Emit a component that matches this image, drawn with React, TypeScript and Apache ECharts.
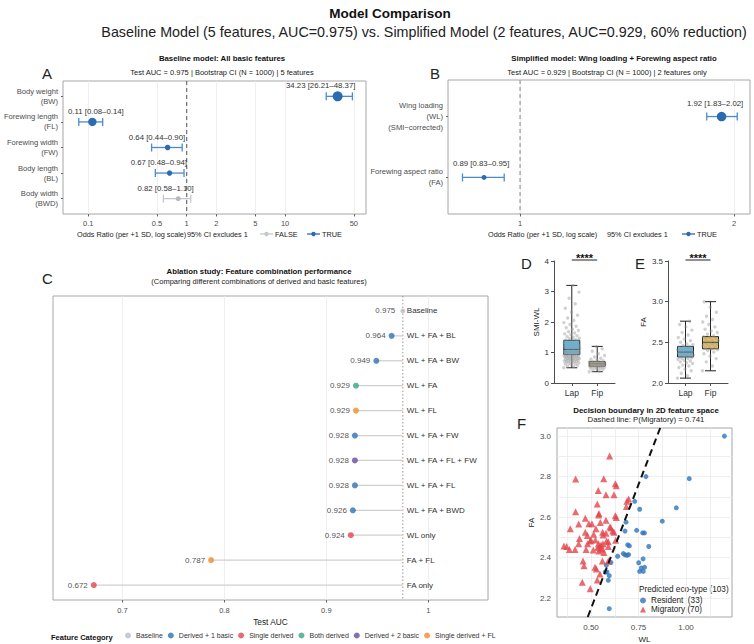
import React, { useEffect, useRef } from 'react';
import * as echarts from 'echarts';

const FONT = '"Liberation Sans", Arial, Helvetica, sans-serif';

// ---------------- Panel A: baseline model (odds ratios) ----------------
const aFeatures = ['Body weight\n(BW)', 'Forewing length\n(FL)', 'Forewing width\n(FW)', 'Body length\n(BL)', 'Body width\n(BWD)'];
const aOR = [34.23, 0.11, 0.64, 0.67, 0.82];
const aLow = [26.21, 0.08, 0.44, 0.48, 0.58];
const aHigh = [48.37, 0.14, 0.90, 0.94, 1.10];
const aTicks = [0.1, 0.5, 1, 2, 5, 10, 50];

// ---------------- Panel B: simplified model ----------------
const bFeatures = ['Wing loading\n(WL)\n(SMI\u2212corrected)', 'Forewing aspect ratio\n(FA)'];
const bOR = [1.92, 0.89];
const bLow = [1.83, 0.83];
const bHigh = [2.02, 0.95];
const bTicks = [1, 2];

// ---------------- Panel C: ablation study ----------------
const cCombos = ['Baseline', 'WL + FA + BL', 'WL + FA + BW', 'WL + FA', 'WL + FL', 'WL + FA + FW', 'WL + FA + FL + FW', 'WL + FA + FL', 'WL + FA + BWD', 'WL only', 'FA + FL', 'FA only'];
const cAUC = [0.975, 0.964, 0.949, 0.929, 0.929, 0.928, 0.928, 0.928, 0.926, 0.924, 0.787, 0.672];
const cCategory = ['Baseline', 'Derived + 1 basic', 'Derived + 1 basic', 'Both derived', 'Single derived + FL', 'Derived + 1 basic', 'Derived + 2 basic', 'Derived + 1 basic', 'Derived + 1 basic', 'Single derived', 'Single derived + FL', 'Single derived'];
const categoryNames = ['Baseline', 'Derived + 1 basic', 'Single derived', 'Both derived', 'Derived + 2 basic', 'Single derived + FL'];
const cTicks = [0.7, 0.8, 0.9, 1.0];

// ---------------- Panels D / E: group comparisons ----------------
const groupNames = ['Lap', 'Fip'];
const dLap = [0.50, 0.53, 0.56, 0.58, 0.60, 0.62, 0.63, 0.65, 0.66, 0.68, 0.69, 0.70, 0.71, 0.72, 0.73, 0.74, 0.75, 0.76, 0.77, 0.78, 0.79, 0.80, 0.80, 0.81, 0.82, 0.83, 0.84, 0.85, 0.85, 0.86, 0.87, 0.88, 0.89, 0.90, 0.90, 0.91, 0.92, 0.93, 0.94, 0.95, 0.96, 0.97, 0.98, 0.99, 1.00, 1.01, 1.02, 1.03, 1.04, 1.05, 1.06, 1.07, 1.08, 1.10, 1.11, 1.12, 1.14, 1.15, 1.16, 1.18, 1.19, 1.20, 1.22, 1.24, 1.25, 1.27, 1.28, 1.30, 1.32, 1.34, 1.35, 1.37, 1.39, 1.40, 1.42, 1.45, 1.47, 1.50, 1.52, 1.55, 1.58, 1.61, 1.64, 1.68, 1.72, 1.76, 1.81, 1.86, 1.92, 1.98, 2.05, 2.13, 2.22, 2.32, 2.45, 2.60, 2.78, 2.98, 3.20];
const dFip = [0.37, 0.40, 0.42, 0.44, 0.46, 0.48, 0.49, 0.50, 0.51, 0.52, 0.53, 0.54, 0.55, 0.55, 0.56, 0.57, 0.57, 0.58, 0.59, 0.59, 0.60, 0.61, 0.61, 0.62, 0.62, 0.63, 0.63, 0.64, 0.64, 0.65, 0.66, 0.66, 0.67, 0.68, 0.69, 0.70, 0.71, 0.73, 0.75, 0.78, 0.81, 0.85, 0.90, 0.96, 1.04, 1.12, 1.20];
const dBoxLap = [0.50, 0.93, 1.10, 1.40, 3.20];
const dBoxFip = [0.37, 0.55, 0.63, 0.70, 1.20];
const eLap = [2.06, 2.09, 2.12, 2.15, 2.17, 2.19, 2.21, 2.22, 2.24, 2.25, 2.26, 2.27, 2.28, 2.29, 2.30, 2.30, 2.31, 2.32, 2.32, 2.33, 2.33, 2.34, 2.35, 2.35, 2.36, 2.36, 2.37, 2.37, 2.38, 2.38, 2.39, 2.39, 2.40, 2.40, 2.41, 2.42, 2.42, 2.43, 2.44, 2.44, 2.45, 2.46, 2.47, 2.48, 2.50, 2.52, 2.54, 2.56, 2.59, 2.62, 2.65, 2.69, 2.72, 2.76];
const eFip = [2.15, 2.21, 2.26, 2.30, 2.33, 2.36, 2.38, 2.40, 2.41, 2.42, 2.43, 2.44, 2.45, 2.46, 2.47, 2.48, 2.48, 2.49, 2.50, 2.50, 2.51, 2.52, 2.53, 2.54, 2.55, 2.56, 2.57, 2.58, 2.60, 2.62, 2.64, 2.66, 2.69, 2.72, 2.75, 2.78, 2.82, 2.87, 2.93, 3.00];
const eBoxLap = [2.06, 2.32, 2.38, 2.45, 2.76];
const eBoxFip = [2.15, 2.42, 2.50, 2.57, 3.00];
const sigLabel = '****';

// ---------------- Panel F: decision boundary ----------------
const fResWL = [1.202, 0.789, 1.017, 0.730, 0.756, 0.949, 0.875, 0.684, 0.740, 0.679, 0.772, 0.781, 0.693, 0.702, 0.804, 0.670, 0.679, 0.689, 0.698, 0.640, 0.774, 0.751, 0.605, 0.581, 0.756, 0.765, 0.775, 0.782, 0.584, 0.575, 0.596, 0.591, 0.596];
const fResFA = [3.000, 2.800, 2.790, 2.678, 2.639, 2.646, 2.580, 2.575, 2.535, 2.531, 2.522, 2.522, 2.463, 2.458, 2.455, 2.420, 2.414, 2.412, 2.415, 2.407, 2.394, 2.375, 2.376, 2.363, 2.332, 2.349, 2.332, 2.352, 2.329, 2.329, 2.311, 2.288, 2.148];
const fMigWL = [0.598, 0.419, 0.567, 0.628, 0.633, 0.538, 0.579, 0.621, 0.698, 0.689, 0.533, 0.686, 0.419, 0.542, 0.540, 0.628, 0.633, 0.470, 0.549, 0.579, 0.435, 0.489, 0.505, 0.391, 0.600, 0.604, 0.526, 0.470, 0.561, 0.579, 0.621, 0.439, 0.481, 0.514, 0.563, 0.614, 0.496, 0.523, 0.500, 0.582, 0.591, 0.630, 0.358, 0.372, 0.386, 0.416, 0.435, 0.482, 0.539, 0.553, 0.563, 0.546, 0.535, 0.549, 0.542, 0.560, 0.591, 0.474, 0.512, 0.568, 0.458, 0.560, 0.591, 0.463, 0.521, 0.528, 0.547, 0.533, 0.454, 0.496];
const fMigFA = [2.902, 2.788, 2.789, 2.765, 2.755, 2.732, 2.711, 2.711, 2.690, 2.678, 2.665, 2.652, 2.626, 2.618, 2.610, 2.607, 2.598, 2.595, 2.574, 2.585, 2.566, 2.567, 2.567, 2.543, 2.553, 2.546, 2.543, 2.525, 2.525, 2.520, 2.525, 2.495, 2.509, 2.515, 2.512, 2.531, 2.482, 2.487, 2.487, 2.482, 2.478, 2.486, 2.458, 2.455, 2.440, 2.440, 2.469, 2.469, 2.469, 2.463, 2.469, 2.456, 2.450, 2.443, 2.433, 2.443, 2.455, 2.440, 2.438, 2.425, 2.384, 2.384, 2.384, 2.360, 2.352, 2.344, 2.319, 2.290, 2.278, 2.246];
const fBoundaryWL = [0.483, 0.864];
const fBoundaryFA = [2.107, 3.040];
const fThreshold = 0.741;
const fXTicks = [0.375, 0.5, 0.625, 0.75, 0.875, 1.0, 1.125];
const fXLabels = [0.5, 0.75, 1.0];
const fYTicks = [2.2, 2.3, 2.4, 2.5, 2.6, 2.7, 2.8, 2.9, 3.0];
const fYLabels = [2.2, 2.4, 2.6, 2.8, 3.0];

// ---------------- styles ----------------
const catColors: Record<string, string> = {
  'Baseline': '#b9bdc4',
  'Derived + 1 basic': '#2f72b3',
  'Single derived': '#e0474c',
  'Both derived': '#3aa57f',
  'Derived + 2 basic': '#6a4c9c',
  'Single derived + FL': '#f38b2e',
};
const BLUE_DOT = '#2b6cb0';
const BLUE_BAR = '#4a8bd0';
const GRAY_DOT = '#b5b9bf';
const GRAY_BAR = '#c4c8ce';
const BORDER = '#a6a6a6';
const GRIDC = '#ebebeb';
const TICKC = '#4d4d4d';

const lg = (v: number) => Math.log10(v);

function txt(text: string, x: number, y: number, size: number, o: any = {}) {
  return {
    type: 'text', x, y, silent: true,
    style: {
      text, fontSize: size, fontFamily: FONT, fill: o.fill || '#222',
      fontWeight: o.bold ? 'bold' : 'normal', textAlign: o.align || 'left', textVerticalAlign: 'middle',
    },
  };
}
function legIcon(x1: number, x2: number, y: number, color: string) {
  return [
    { type: 'line', silent: true, shape: { x1, y1: y, x2, y2: y }, style: { stroke: color, lineWidth: 1.3 } },
    { type: 'circle', silent: true, shape: { cx: (x1 + x2) / 2, cy: y, r: 2.2 }, style: { fill: color } },
  ];
}

function forestSeries(idx: number, ors: number[], los: number[], his: number[], dMin: number, dMax: number, labelDx: number, labelDy: number) {
  const mags = ors.map((o) => Math.abs(lg(o)));
  const mn = Math.min(...mags);
  const mx = Math.max(...mags);
  return {
    type: 'custom', xAxisIndex: idx, yAxisIndex: idx, silent: true, z: 3,
    data: ors.map((o, i) => [lg(o), i, lg(los[i]), lg(his[i])]),
    renderItem: (params: any, api: any) => {
      const i = params.dataIndex;
      const y = api.coord([0, i])[1];
      const xc = api.coord([api.value(0), i])[0];
      const xl = api.coord([api.value(2), i])[0];
      const xh = api.coord([api.value(3), i])[0];
      const sig = los[i] > 1 || his[i] < 1;
      const t = (mags[i] - mn) / (mx - mn || 1);
      const d = Math.sqrt(dMin * dMin + t * (dMax * dMax - dMin * dMin));
      const dot = sig ? BLUE_DOT : GRAY_DOT;
      const bar = sig ? BLUE_BAR : GRAY_BAR;
      const label = `${ors[i].toFixed(2)} [${los[i].toFixed(2)}\u2013${his[i].toFixed(2)}]`;
      const cs = params.coordSys;
      const estW = label.length * 3.75;
      let tx = xh + labelDx;
      let align = 'right';
      if (tx - estW < cs.x + 4) { tx = cs.x + 5; align = 'left'; }
      const ls = { stroke: bar, lineWidth: 1.3 };
      return {
        type: 'group', children: [
          { type: 'line', shape: { x1: xl, y1: y, x2: xh, y2: y }, style: ls },
          { type: 'line', shape: { x1: xl, y1: y - 4, x2: xl, y2: y + 4 }, style: ls },
          { type: 'line', shape: { x1: xh, y1: y - 4, x2: xh, y2: y + 4 }, style: ls },
          { type: 'circle', shape: { cx: xc, cy: y, r: d / 2 }, style: { fill: dot } },
          { type: 'text', style: { text: label, x: tx, y: y + labelDy, textAlign: align, textVerticalAlign: 'middle', fontSize: 7.8, fontWeight: 'normal', fontFamily: FONT, fill: '#333', lineWidth: 0 } },
        ],
      };
    },
  };
}

function boxSeries(idx: number, stats: number[][], colors: string[]) {
  return {
    type: 'custom', xAxisIndex: idx, yAxisIndex: idx, silent: true, z: 2,
    data: stats.map((s, i) => [i, s[0], s[4]]),
    renderItem: (params: any, api: any) => {
      const i = params.dataIndex;
      const s = stats[i];
      const c = (v: number) => api.coord([i, v]);
      const x = c(s[0])[0];
      const yMin = c(s[0])[1], yQ1 = c(s[1])[1], yMed = c(s[2])[1], yQ3 = c(s[3])[1], yMax = c(s[4])[1];
      const bw = 16, cw = 11;
      const st = { stroke: '#222', lineWidth: 1 };
      return {
        type: 'group', children: [
          { type: 'line', shape: { x1: x, y1: yMax, x2: x, y2: yQ3 }, style: st },
          { type: 'line', shape: { x1: x, y1: yQ1, x2: x, y2: yMin }, style: st },
          { type: 'line', shape: { x1: x - cw / 2, y1: yMax, x2: x + cw / 2, y2: yMax }, style: st },
          { type: 'line', shape: { x1: x - cw / 2, y1: yMin, x2: x + cw / 2, y2: yMin }, style: st },
          { type: 'rect', shape: { x: x - bw / 2, y: yQ3, width: bw, height: yQ1 - yQ3 }, style: { fill: colors[i], stroke: '#222', lineWidth: 1 } },
          { type: 'line', shape: { x1: x - bw / 2, y1: yMed, x2: x + bw / 2, y2: yMed }, style: st },
        ],
      };
    },
  };
}

function pointsSeries(idx: number, groups: number[][]) {
  const data: number[][] = [];
  groups.forEach((vals, g) => vals.forEach((v, k) => data.push([g, v, k])));
  return {
    type: 'custom', xAxisIndex: idx, yAxisIndex: idx, silent: true, z: 3,
    data,
    renderItem: (params: any, api: any) => {
      const g = api.value(0), v = api.value(1), k = api.value(2);
      const [x, y] = api.coord([g, v]);
      const dx = (((k * 0.618034) % 1) - 0.5) * 16;
      return { type: 'circle', shape: { cx: x + dx, cy: y, r: 1.7 }, style: { fill: '#9a9a9a', opacity: 0.45 } };
    },
  };
}

function bracketSeries(idx: number, top: number) {
  return {
    type: 'custom', xAxisIndex: idx, yAxisIndex: idx, silent: true, z: 4,
    data: [[0, 1, top]],
    renderItem: (params: any, api: any) => {
      const x0 = api.coord([api.value(0), top])[0];
      const x1 = api.coord([api.value(1), top])[0];
      const y = params.coordSys.y - 1;
      return {
        type: 'group', children: [
          { type: 'line', shape: { x1: x0, y1: y, x2: x1, y2: y }, style: { stroke: '#222', lineWidth: 1 } },
          { type: 'text', style: { text: sigLabel, x: (x0 + x1) / 2, y: y - 2, textAlign: 'center', textVerticalAlign: 'middle', fontSize: 11, fontWeight: 'bold', fontFamily: FONT, fill: '#111', lineWidth: 0 } },
        ],
      };
    },
  };
}

const tick = (size = 7.5) => ({ fontSize: size, color: TICKC, fontFamily: FONT });

function buildOption() {
  const baselineAUC = cAUC[cCombos.indexOf('Baseline')];
  const resName = `Resident  (${fResWL.length})`;
  const migName = `Migratory (${fMigWL.length})`;
  const total = fResWL.length + fMigWL.length;
  const aLog = aTicks.map(lg);
  const bLog = bTicks.map(lg);
  const fmtPow = (v: number) => String(Number(Math.pow(10, v).toPrecision(3)));

  const grids = [
    { left: 63, top: 81, width: 303, height: 133, show: true, borderColor: BORDER, borderWidth: 1 },
    { left: 448, top: 80, width: 302, height: 134, show: true, borderColor: BORDER, borderWidth: 1 },
    { left: 53, top: 296, width: 435, height: 304, show: true, borderColor: BORDER, borderWidth: 1 },
    { left: 554, top: 261, width: 61, height: 122 },
    { left: 668, top: 261, width: 60, height: 122 },
    { left: 557, top: 428, width: 175, height: 190, show: true, borderColor: BORDER, borderWidth: 1 },
  ];

  const noLine = { show: false, onZero: false };
  const split = { show: true, lineStyle: { color: GRIDC, width: 0.8 } };
  const ddAxisLine = { show: true, onZero: false, lineStyle: { color: TICKC, width: 1 } };
  const ddTick = { show: true, length: 3, lineStyle: { color: TICKC } };

  const xAxis: any[] = [
    { type: 'value', gridIndex: 0, min: lg(0.0553), max: lg(66.5), axisLine: noLine, splitLine: split,
      axisTick: { show: true, customValues: aLog, length: 2.5, lineStyle: { color: '#666' } },
      axisLabel: { customValues: aLog, formatter: fmtPow, margin: 5, ...tick(7.5) } },
    { type: 'value', gridIndex: 1, min: lg(0.792), max: lg(2.105), axisLine: noLine, splitLine: split,
      axisTick: { show: true, customValues: bLog, length: 2.5, lineStyle: { color: '#666' } },
      axisLabel: { customValues: bLog, formatter: fmtPow, margin: 5, ...tick(7.5) } },
    { type: 'value', gridIndex: 2, min: 0.632, max: 1.0585, axisLine: noLine, splitLine: split,
      axisTick: { show: true, customValues: cTicks, length: 2.5, lineStyle: { color: '#666' } },
      axisLabel: { customValues: cTicks, formatter: (v: number) => String(Number(v.toFixed(1))), margin: 6, ...tick(7.5) },
      name: 'Test AUC', nameLocation: 'middle', nameGap: 18, nameTextStyle: { fontSize: 8.3, color: '#222', fontFamily: FONT } },
    { type: 'value', gridIndex: 3, min: -0.7, max: 1.7, axisLine: ddAxisLine, splitLine: { show: false },
      axisTick: { ...ddTick, customValues: [0, 1] },
      axisLabel: { customValues: [0, 1], formatter: (v: number) => groupNames[Math.round(v)], margin: 5, fontSize: 8.5, color: '#333', fontFamily: FONT } },
    { type: 'value', gridIndex: 4, min: -0.7, max: 1.7, axisLine: ddAxisLine, splitLine: { show: false },
      axisTick: { ...ddTick, customValues: [0, 1] },
      axisLabel: { customValues: [0, 1], formatter: (v: number) => groupNames[Math.round(v)], margin: 5, fontSize: 8.5, color: '#333', fontFamily: FONT } },
    { type: 'value', gridIndex: 5, min: 0.321, max: 1.242, axisLine: noLine, splitLine: split,
      axisTick: { show: false, customValues: fXTicks },
      axisLabel: { customValues: fXLabels, formatter: (v: number) => v.toFixed(2), margin: 6, ...tick(8) },
      name: 'WL', nameLocation: 'middle', nameGap: 18, nameTextStyle: { fontSize: 8, color: '#222', fontFamily: FONT } },
  ];

  const yAxis: any[] = [
    { type: 'value', gridIndex: 0, inverse: true, min: -0.6, max: 4.6, axisLine: noLine, splitLine: { show: false },
      axisTick: { show: true, customValues: [0, 1, 2, 3, 4], length: 2, lineStyle: { color: '#666' } },
      axisLabel: { customValues: [0, 1, 2, 3, 4], formatter: (v: number) => aFeatures[Math.round(v)], margin: 5, lineHeight: 10, align: 'right', ...tick(7.6) } },
    { type: 'value', gridIndex: 1, inverse: true, min: -0.6, max: 1.6, axisLine: noLine, splitLine: { show: false },
      axisTick: { show: true, customValues: [0, 1], length: 2, lineStyle: { color: '#666' } },
      axisLabel: { customValues: [0, 1], formatter: (v: number) => bFeatures[Math.round(v)], margin: 5, lineHeight: 11, align: 'right', ...tick(7.6) } },
    { type: 'value', gridIndex: 2, inverse: true, min: -0.6, max: 11.6, axisLine: noLine, splitLine: { show: false },
      axisTick: { show: false }, axisLabel: { show: false } },
    { type: 'value', gridIndex: 3, min: 0, max: 4, interval: 1, axisLine: ddAxisLine, axisTick: ddTick, splitLine: { show: false },
      axisLabel: { margin: 5, fontSize: 8, color: '#333', fontFamily: FONT },
      name: 'SMI-WL', nameLocation: 'middle', nameGap: 13, nameTextStyle: { fontSize: 8, color: '#222', fontFamily: FONT } },
    { type: 'value', gridIndex: 4, min: 2.0, max: 3.5, interval: 0.5, axisLine: ddAxisLine, axisTick: ddTick, splitLine: { show: false },
      axisLabel: { margin: 5, fontSize: 8, color: '#333', fontFamily: FONT, formatter: (v: number) => v.toFixed(1) },
      name: 'FA', nameLocation: 'middle', nameGap: 19, nameTextStyle: { fontSize: 8, color: '#222', fontFamily: FONT } },
    { type: 'value', gridIndex: 5, min: 2.107, max: 3.04, axisLine: noLine, splitLine: split,
      axisTick: { show: false, customValues: fYTicks },
      axisLabel: { customValues: fYLabels, formatter: (v: number) => v.toFixed(1), margin: 6, ...tick(8) },
      name: 'FA', nameLocation: 'middle', nameGap: 21, nameTextStyle: { fontSize: 8, color: '#222', fontFamily: FONT } },
  ];

  const series: any[] = [
    // A
    { type: 'line', xAxisIndex: 0, yAxisIndex: 0, data: [[0, -0.6], [0, 4.6]], symbol: 'none', silent: true, z: 1,
      lineStyle: { type: [4, 3], color: '#6e6e6e', width: 1.2 } },
    forestSeries(0, aOR, aLow, aHigh, 5, 10, 3, -10.5),
    // B
    { type: 'line', xAxisIndex: 1, yAxisIndex: 1, data: [[0, -0.6], [0, 1.6]], symbol: 'none', silent: true, z: 1,
      lineStyle: { type: [4, 3], color: '#9a9a9a', width: 1.2 } },
    forestSeries(1, bOR, bLow, bHigh, 5, 9.5, 6, -13.5),
    // C
    { type: 'line', xAxisIndex: 2, yAxisIndex: 2, data: [[baselineAUC, -0.6], [baselineAUC, 11.6]], symbol: 'none', silent: true, z: 1,
      lineStyle: { type: [1.5, 2], color: '#9a9a9a', width: 1 } },
    {
      type: 'custom', xAxisIndex: 2, yAxisIndex: 2, silent: true, z: 2,
      data: cAUC.map((v, i) => [v, i]),
      renderItem: (params: any, api: any) => {
        const i = params.dataIndex;
        const [x1, y] = api.coord([api.value(0), i]);
        const x0 = api.coord([baselineAUC, i])[0];
        return {
          type: 'group', children: [
            { type: 'line', shape: { x1, y1: y, x2: x0, y2: y }, style: { stroke: '#d0d0d0', lineWidth: 1.3 } },
            { type: 'text', style: { text: cCombos[i], x: x0 + 4, y, textVerticalAlign: 'middle', fontSize: 8, fontWeight: 'normal', fontFamily: FONT, fill: '#333', lineWidth: 0 } },
          ],
        };
      },
    },
    ...categoryNames.map((cat) => ({
      type: 'scatter', name: cat, xAxisIndex: 2, yAxisIndex: 2, z: 4,
      data: cAUC.map((v, i) => (cCategory[i] === cat ? [v, i] : null)).filter((d) => d !== null),
      symbolSize: cat === 'Baseline' ? 5 : 6,
      itemStyle: { color: catColors[cat] },
      label: { show: true, position: 'left', distance: cat === 'Baseline' ? 5 : 3, formatter: (p: any) => p.value[0].toFixed(3), fontSize: 8, color: '#222', fontFamily: FONT },
    })),
    // D
    boxSeries(3, [dBoxLap, dBoxFip], ['#4fc3f7', '#e8c26a']),
    pointsSeries(3, [dLap, dFip]),
    bracketSeries(3, 4),
    // E
    boxSeries(4, [eBoxLap, eBoxFip], ['#4fc3f7', '#f0c35e']),
    pointsSeries(4, [eLap, eFip]),
    bracketSeries(4, 3.5),
    // F
    { type: 'scatter', name: resName, xAxisIndex: 5, yAxisIndex: 5, symbol: 'circle', symbolSize: 5, z: 3,
      itemStyle: { color: '#2f76bd' }, data: fResWL.map((w, i) => [w, fResFA[i]]) },
    { type: 'scatter', name: migName, xAxisIndex: 5, yAxisIndex: 5, symbol: 'triangle', symbolSize: 7, z: 3,
      itemStyle: { color: '#e3454b' }, data: fMigWL.map((w, i) => [w, fMigFA[i]]) },
    { type: 'line', xAxisIndex: 5, yAxisIndex: 5, symbol: 'none', silent: true, z: 5,
      data: fBoundaryWL.map((w, i) => [w, fBoundaryFA[i]]),
      lineStyle: { color: '#111', width: 2, type: [7, 4.5] } },
  ];

  const graphic: any[] = [
    txt('Model Comparison', 390, 13, 13.5, { bold: true, align: 'center', fill: '#111' }),
    txt('Baseline Model (5 features, AUC=0.975) vs. Simplified Model (2 features, AUC=0.929, 60% reduction)', 424, 32, 14.3, { align: 'center', fill: '#222' }),
    // panel letters
    txt('A', 42, 73, 15), txt('B', 430, 73, 15), txt('C', 42, 278, 15),
    txt('D', 521, 263, 15), txt('E', 635, 263, 15), txt('F', 517, 423, 15),
    // A titles
    txt('Baseline model: All basic features', 222, 58, 7.8, { bold: true, align: 'center', fill: '#111' }),
    txt('Test AUC = 0.975 | Bootstrap CI (N = 1000) | 5 features', 222, 72, 7.5, { align: 'center', fill: '#222' }),
    // B titles
    txt('Simplified model: Wing loading + Forewing aspect ratio', 614, 58, 7.8, { bold: true, align: 'center', fill: '#111' }),
    txt('Test AUC = 0.929 | Bootstrap CI (N = 1000) | 2 features only', 607, 72, 7.5, { align: 'center', fill: '#222' }),
    // C titles
    txt('Ablation study: Feature combination performance', 259, 271, 7.8, { bold: true, align: 'center', fill: '#111' }),
    txt('(Comparing different combinations of derived and basic features)', 259, 281, 7.5, { align: 'center', fill: '#222' }),
    // F titles
    txt('Decision boundary in 2D feature space', 646, 410, 7.9, { bold: true, align: 'center', fill: '#111' }),
    txt(`Dashed line: P(Migratory) = ${fThreshold.toFixed(3)}`, 646, 419, 7.8, { align: 'center', fill: '#222' }),
    // A axis title + legend
    txt('Odds Ratio (per +1 SD, log scale)', 77, 234, 7.3),
    txt('95% CI excludes 1', 187, 234, 7.3),
    ...legIcon(260, 273, 234, GRAY_BAR),
    txt('FALSE', 275, 234, 7.3),
    ...legIcon(307, 320, 234, BLUE_DOT),
    txt('TRUE', 322, 234, 7.3),
    // B axis title + legend
    txt('Odds Ratio (per +1 SD, log scale)', 488, 234, 7.3),
    txt('95% CI excludes 1', 607, 234, 7.3),
    ...legIcon(682, 695, 234, BLUE_DOT),
    txt('TRUE', 697, 234, 7.3),
    // C legend title
    txt('Feature Category', 51, 637, 7.5, { bold: true, fill: '#111' }),
    // F legend title
    txt(`Predicted eco-type (${total})`, 639, 589.5, 8.2),
  ];

  return {
    animation: false,
    backgroundColor: '#ffffff',
    textStyle: { fontFamily: FONT },
    grid: grids,
    xAxis,
    yAxis,
    legend: [
      { data: categoryNames, left: 125, top: 632, itemWidth: 6, itemHeight: 6, itemGap: 5, icon: 'circle', padding: 0,
        selectedMode: false, textStyle: { fontSize: 7, color: '#333', fontFamily: FONT } },
      { data: [resName, migName], orient: 'vertical', left: 640, top: 596, itemWidth: 6, itemHeight: 6, itemGap: 0, padding: 0,
        selectedMode: false, textStyle: { fontSize: 8.2, color: '#222', fontFamily: FONT, lineHeight: 9 } },
    ],
    series,
    graphic,
  };
}

export default function App() {
  const ref = useRef<HTMLDivElement>(null);
  useEffect(() => {
    if (!ref.current) return;
    const chart = echarts.init(ref.current, undefined, { renderer: 'svg' });
    chart.setOption(buildOption() as any);
    return () => chart.dispose();
  }, []);
  return <div ref={ref} style={{ position: 'absolute', left: 0, top: 0, width: 754, height: 644, background: '#fff' }} />;
}
